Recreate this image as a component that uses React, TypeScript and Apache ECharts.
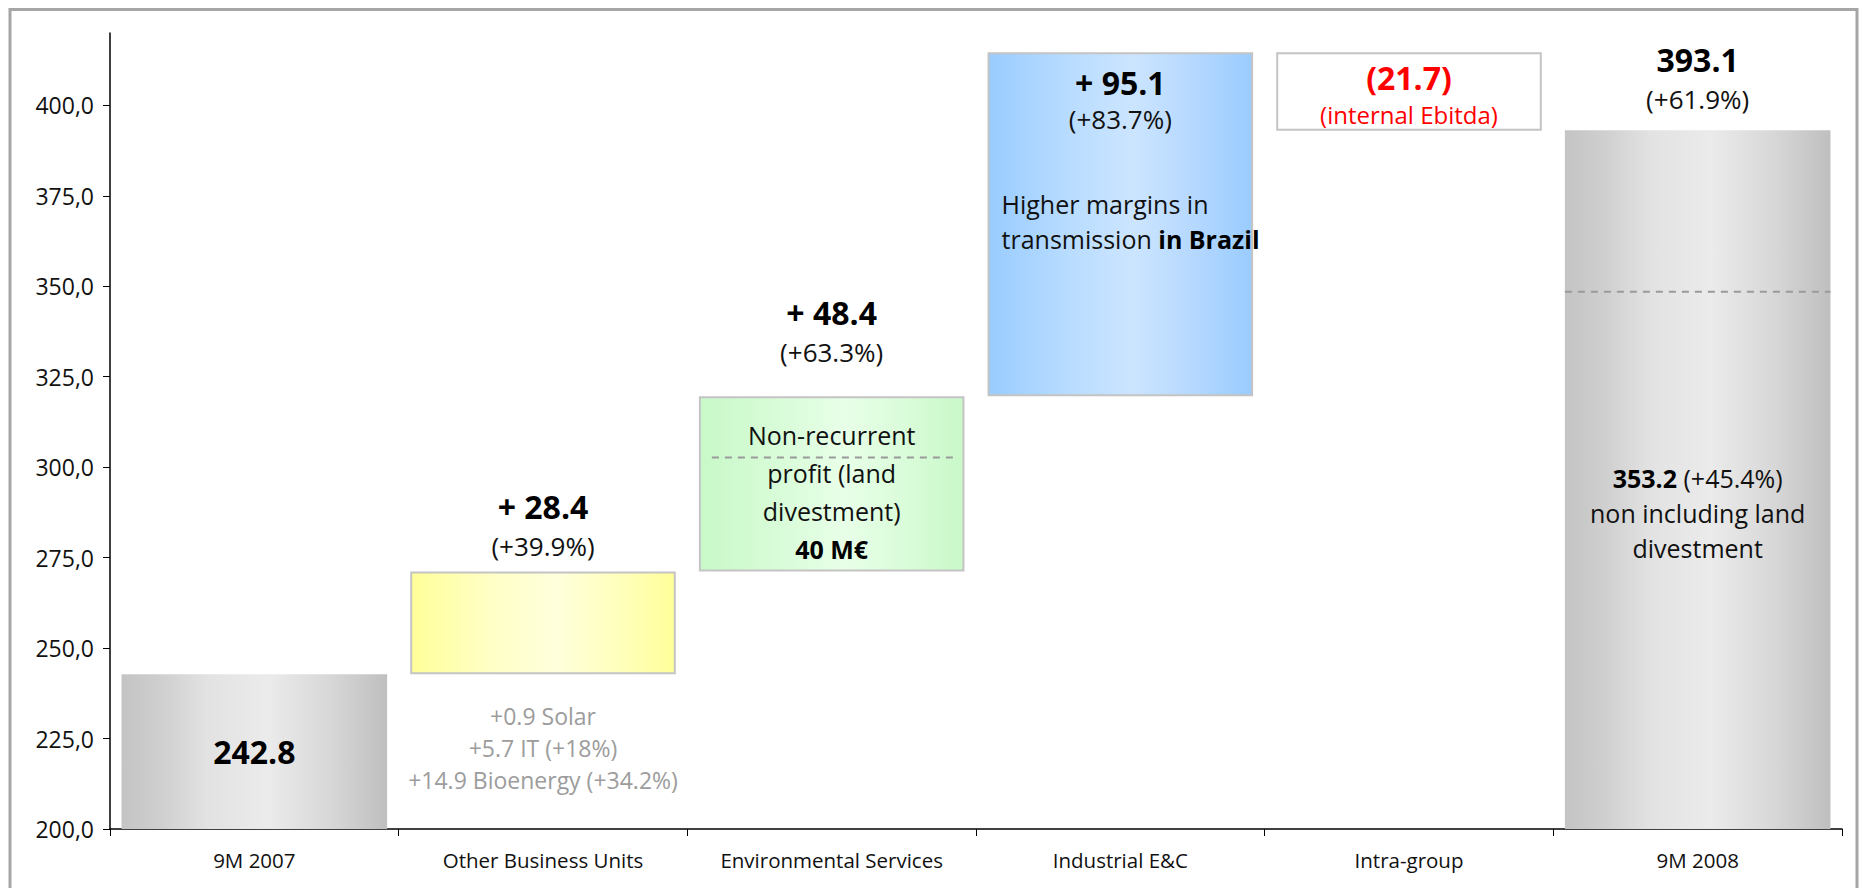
import React, { useEffect, useRef } from 'react';
import * as echarts from 'echarts';

// ---------- data ----------
const categories = ['9M 2007', 'Other Business Units', 'Environmental Services', 'Industrial E&C', 'Intra-group', '9M 2008'];
const startValue = 242.8;
const changes = [28.4, 48.4, 95.1, -21.7];
const endValue = 393.1;
const yTickValues = [200, 225, 250, 275, 300, 325, 350, 375, 400];
const changeTexts = ['+ 28.4', '+ 48.4', '+ 95.1', '(21.7)'];
const changeNotes = ['(+39.9%)', '(+63.3%)', '(+83.7%)', '(internal Ebitda)'];
const otherUnitsNotes = ['+0.9 Solar', '+5.7 IT (+18%)', '+14.9 Bioenergy (+34.2%)'];
const landNotes = ['Non-recurrent', 'profit (land', 'divestment)'];
const landValueText = '40 M€';
const engineeringNotes = ['Higher margins in', 'transmission ', 'in Brazil'];
const endPercent = '(+61.9%)';
const recurringValue = '353.2';
const recurringPercent = '(+45.4%)';
const recurringNotes = ['non including land', 'divestment'];
const dashCategories = ['Environmental Services', '9M 2008'];
const dashValues = [302.7, 348.5];

// ---------- derived waterfall ----------
const baseVals: number[] = [0];
const deltaVals: number[] = [startValue];
let cum = startValue;
for (const c of changes) {
  if (c >= 0) { baseVals.push(cum); deltaVals.push(c); }
  else { baseVals.push(cum + c); deltaVals.push(-c); }
  cum += c;
}
baseVals.push(0);
deltaVals.push(endValue);

const FONT = "'Open Sans', 'Noto Sans', sans-serif";

const grad = (stops: [number, string][]) =>
  new echarts.graphic.LinearGradient(0, 0, 1, 0, stops.map(([offset, color]) => ({ offset, color })));

const grayGrad = () => grad([[0, '#c4c4c4'], [0.15, '#cfcfcf'], [0.32, '#e2e2e2'], [0.55, '#ebebeb'], [0.78, '#d8d8d8'], [1, '#bfbfbf']]);
const yellowGrad = () => grad([[0, '#ffff99'], [0.3, '#ffffc6'], [0.55, '#ffffdc'], [0.8, '#ffffbb'], [1, '#ffff99']]);
const greenGrad = () => grad([[0, '#c8f8c8'], [0.3, '#d8fcd8'], [0.55, '#e8ffe8'], [0.8, '#d8fcd8'], [1, '#c8f8c8']]);
const blueGrad = () => grad([[0, '#99ccff'], [0.3, '#b8dcff'], [0.55, '#cce5ff'], [0.8, '#b3d7ff'], [1, '#99ccff']]);

const BORDER = { borderColor: '#c4c4c4', borderWidth: 2 };

const itemStyles = [
  { color: grayGrad() },
  { color: yellowGrad(), ...BORDER },
  { color: greenGrad(), ...BORDER },
  { color: blueGrad(), ...BORDER },
  { color: '#ffffff', ...BORDER },
  { color: grayGrad() },
];

const richTop = {
  v: { fontFamily: FONT, fontSize: 32, fontWeight: 'bold', lineHeight: 42, color: '#000' },
  p: { fontFamily: FONT, fontSize: 26, lineHeight: 38, color: '#111' },
};

const deltaLabels: any[] = [
  { show: true, position: 'inside', formatter: String(startValue), fontFamily: FONT, fontSize: 32, fontWeight: 'bold', color: '#000' },
  { show: false },
  {
    show: true, position: 'inside', offset: [0, 8],
    formatter: landNotes.map((t) => `{t|${t}}`).join('\n') + `\n{b|${landValueText}}`,
    rich: {
      t: { fontFamily: FONT, fontSize: 25, lineHeight: 38, color: '#111' },
      b: { fontFamily: FONT, fontSize: 25, fontWeight: 'bold', lineHeight: 38, color: '#000' },
    },
  },
  {
    show: true, position: 'insideTop', distance: 10,
    formatter: `{v|${changeTexts[2]}}\n{p|${changeNotes[2]}}`,
    rich: {
      v: { fontFamily: FONT, fontSize: 32, fontWeight: 'bold', lineHeight: 40, color: '#000' },
      p: { fontFamily: FONT, fontSize: 26, lineHeight: 34, color: '#111' },
    },
  },
  {
    show: true, position: 'inside', offset: [0, 5],
    formatter: `{v|${changeTexts[3]}}\n{p|${changeNotes[3]}}`,
    rich: {
      v: { fontFamily: FONT, fontSize: 32, fontWeight: 'bold', lineHeight: 37, color: '#ff0000' },
      p: { fontFamily: FONT, fontSize: 24, lineHeight: 37, color: '#ff0000' },
    },
  },
  {
    show: true, position: 'inside', offset: [0, 33],
    formatter: `{b|${recurringValue}}{t| ${recurringPercent}}\n` + recurringNotes.map((t) => `{t|${t}}`).join('\n'),
    rich: {
      b: { fontFamily: FONT, fontSize: 25, fontWeight: 'bold', lineHeight: 35, color: '#000' },
      t: { fontFamily: FONT, fontSize: 25, lineHeight: 35, color: '#111' },
    },
  },
];

const ghostLabels: any[] = [
  { show: false },
  { show: true, position: 'top', distance: 6, formatter: `{v|${changeTexts[0]}}\n{p|${changeNotes[0]}}`, rich: richTop },
  { show: true, position: 'top', distance: 25, formatter: `{v|${changeTexts[1]}}\n{p|${changeNotes[1]}}`, rich: richTop },
  {
    show: true, position: [14, 134], align: 'left', verticalAlign: 'top',
    formatter: `{t|${engineeringNotes[0]}}\n{t|${engineeringNotes[1]}}{b|${engineeringNotes[2]}}`,
    rich: {
      t: { fontFamily: FONT, fontSize: 25, lineHeight: 35, color: '#111' },
      b: { fontFamily: FONT, fontSize: 25, fontWeight: 'bold', lineHeight: 35, color: '#000' },
    },
  },
  { show: false },
  { show: true, position: 'top', distance: 12, formatter: `{v|${endValue}}\n{p|${endPercent}}`, rich: richTop },
];

const baseLabels: any[] = categories.map((_, i) =>
  i === 1
    ? {
        show: true, position: 'insideTop', distance: 26,
        formatter: otherUnitsNotes.join('\n'),
        fontFamily: FONT, fontSize: 23, lineHeight: 32, color: '#9c9c9c',
      }
    : { show: false }
);

export default function App() {
  const ref = useRef<HTMLDivElement>(null);
  useEffect(() => {
    if (!ref.current) return;
    const chart = echarts.init(ref.current, undefined, { renderer: 'svg' });
    const barCommon = { type: 'bar', barWidth: '92%', barGap: '-100%' };
    chart.setOption({
      animation: false,
      textStyle: { fontFamily: FONT },
      grid: { left: 110, right: 21, top: 33, bottom: 59 },
      graphic: [
        {
          type: 'rect', silent: true, z: 100,
          shape: { x: 10, y: 9.5, width: 1847, height: 900 },
          style: { fill: 'none', stroke: '#a6a6a6', lineWidth: 3 },
        },
      ],
      xAxis: {
        type: 'category',
        data: categories,
        axisLine: { lineStyle: { color: '#000', width: 1.5 } },
        axisTick: { show: true, interval: 0, length: 7, lineStyle: { color: '#000' } },
        axisLabel: { interval: 0, hideOverlap: false, fontFamily: FONT, fontSize: 20.5, color: '#111', margin: 20 },
      },
      yAxis: {
        type: 'value',
        min: 200,
        max: 420,
        interval: 25,
        splitLine: { show: false },
        axisLine: { show: true, lineStyle: { color: '#000', width: 1.5 } },
        axisTick: { show: true, length: 7, lineStyle: { color: '#000' }, customValues: yTickValues },
        axisLabel: {
          fontFamily: FONT, fontSize: 23, color: '#111', margin: 16,
          customValues: yTickValues,
          formatter: (v: number) => v.toFixed(1).replace('.', ','),
        },
      },
      series: [
        {
          ...barCommon, name: 'base', stack: 'wf', silent: true,
          itemStyle: { color: 'rgba(0,0,0,0)' },
          data: baseVals.map((v, i) => ({ value: v, label: baseLabels[i] })),
        },
        {
          ...barCommon, name: 'delta', stack: 'wf',
          data: deltaVals.map((v, i) => ({ value: v, itemStyle: itemStyles[i], label: deltaLabels[i] })),
        },
        {
          ...barCommon, name: 'ghostBase', stack: 'ghost', silent: true,
          itemStyle: { color: 'rgba(0,0,0,0)' },
          data: baseVals.map((v) => ({ value: v })),
        },
        {
          ...barCommon, name: 'ghostDelta', stack: 'ghost', silent: true,
          itemStyle: { color: 'rgba(0,0,0,0)' },
          data: deltaVals.map((v, i) => ({ value: v, label: ghostLabels[i] })),
        },
        {
          type: 'custom', name: 'dash', silent: true, z: 5,
          encode: { x: 0, y: 1 },
          data: dashCategories.map((c, i) => [categories.indexOf(c), dashValues[i]]),
          renderItem: (params: any, api: any) => {
            const idx = api.value(0);
            const p = api.coord([idx, api.value(1)]);
            const band = api.size([1, 0])[0];
            const half = (band * 0.92) / 2;
            const inset = categories[idx] === '9M 2008' ? [0, 0] : [13, 10];
            return {
              type: 'line',
              shape: { x1: p[0] - half + inset[0], y1: p[1], x2: p[0] + half - inset[1], y2: p[1] },
              style: { stroke: '#9a9a9a', lineWidth: 2, lineDash: [7, 6] },
            };
          },
        },
      ],
    });
    return () => chart.dispose();
  }, []);
  return <div ref={ref} style={{ position: 'fixed', left: 0, top: 0, width: 1863, height: 888, background: '#fff' }} />;
}
